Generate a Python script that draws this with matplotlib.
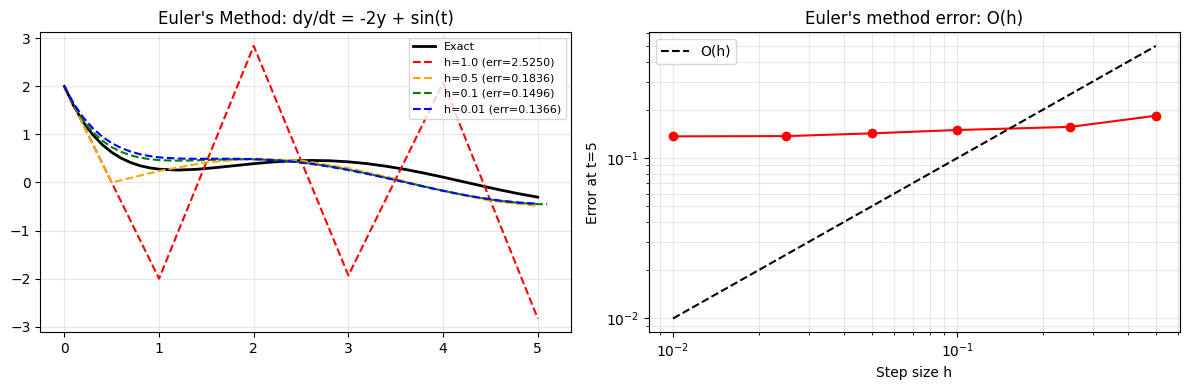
import matplotlib
matplotlib.use("Agg")
import matplotlib.pyplot as plt

# exact solution
t_exact=[0.0,0.1,0.2,0.3,0.4,0.5,0.6,0.7,0.8,0.9,1.0,1.2,1.4,1.6,1.8,2.0,2.2,2.4,2.6,2.8,
         3.0,3.2,3.4,3.6,3.8,4.0,4.2,4.4,4.6,4.8,5.0]
y_exact=[2.0,1.587,1.256,0.994,0.788,0.628,0.506,0.415,0.349,0.305,0.277,0.259,0.275,0.310,0.351,
         0.392,0.427,0.450,0.459,0.453,0.430,0.392,0.338,0.272,0.195,0.111,0.022,-0.067,-0.154,-0.234,-0.305]

# h=1.0
t_h1=[0,1,2,3,4,5]
y_h1=[2.0,-2.0,2.8415,-1.9324,2.0735,-2.8302]

# h=0.5
t_h05=[0,0.5,1.0,1.5,2.0,2.5,3.0,3.5,4.0,4.5,5.0]
y_h05=[2.0,0.0,0.2397,0.4207,0.4987,0.4546,0.2992,0.0706,-0.1754,-0.3784,-0.4888]

# h=0.1 (runs slightly past t=5)
t_h01=[round(0.1*i,1) for i in range(52)]
y_h01=[2.0,1.6,1.290,1.0519,0.8711,0.7358,0.6366,0.5657,0.5170,0.4853,0.4666,0.4574,0.4551,0.4573,
       0.4622,0.4683,0.4744,0.4795,0.4828,0.4836,0.4815,0.4761,0.4672,0.4546,0.4383,0.4182,0.3944,
       0.3671,0.3364,0.3026,0.2660,0.2269,0.1857,0.1427,0.0984,0.0532,0.0075,-0.0383,-0.0836,-0.1281,
       -0.1713,-0.2127,-0.2520,-0.2888,-0.3226,-0.3533,-0.3804,-0.4037,-0.4230,-0.4380,-0.4487,-0.4548]

# h=0.01
t_h001=[0.0,0.1,0.2,0.3,0.4,0.5,0.6,0.7,0.8,0.9,1.0,1.2,1.4,1.6,1.8,2.0,2.2,2.4,2.6,2.8,
        3.0,3.2,3.4,3.6,3.8,4.0,4.2,4.4,4.6,4.8,5.0]
y_h001=[2.0,1.638,1.352,1.129,0.954,0.820,0.718,0.643,0.588,0.550,0.523,0.498,0.493,0.494,0.494,
        0.486,0.467,0.435,0.389,0.330,0.259,0.179,0.093,0.003,-0.087,-0.172,-0.251,-0.320,-0.376,-0.417,-0.442]

labels=["h=1.0 (err=2.5250)","h=0.5 (err=0.1836)","h=0.1 (err=0.1496)","h=0.01 (err=0.1366)"]

# convergence data
h_list=[0.01,0.025,0.05,0.1,0.25,0.5]
err_list=[0.1366,0.1371,0.1426,0.1496,0.1565,0.1836]
ref_h=[0.01,0.5]

fig,(ax1,ax2)=plt.subplots(1,2,figsize=(12,4),dpi=100)

ax1.plot(t_exact,y_exact,c='black',lw=2,label='Exact')
ax1.plot(t_h1,y_h1,c='red',ls='--',label=labels[0])
ax1.plot(t_h05,y_h05,c='orange',ls='--',label=labels[1])
ax1.plot(t_h01,y_h01,c='green',ls='--',label=labels[2])
ax1.plot(t_h001,y_h001,c='blue',ls='--',label=labels[3])
ax1.set_title("Euler's Method: dy/dt = -2y + sin(t)")
ax1.legend(fontsize=8,loc='upper right')
ax1.grid(alpha=0.3)

ax2.loglog(h_list,err_list,'ro-')
ax2.loglog(ref_h,ref_h,'k--',label='O(h)')
ax2.set_xlabel("Step size h")
ax2.set_ylabel("Error at t=5")
ax2.set_title("Euler's method error: O(h)")
ax2.legend(loc='upper left')
ax2.grid(True,which='both',alpha=0.3)

plt.tight_layout()
plt.savefig("out.png",dpi=100,bbox_inches='tight')
